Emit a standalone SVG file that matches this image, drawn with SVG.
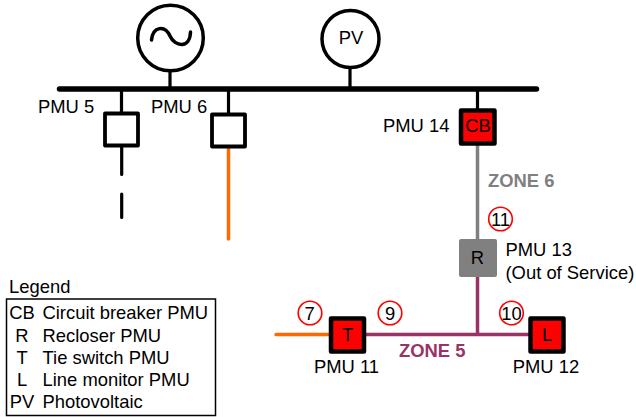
<svg xmlns="http://www.w3.org/2000/svg" width="636" height="417" viewBox="0 0 636 417">
<style>
text{font-family:"Liberation Sans",Arial,sans-serif;font-size:18.400px;fill:#000}
.m{text-anchor:middle}
.w{fill:none;stroke-linecap:round}
.k{stroke:#000;stroke-width:3.200}
.o{stroke:#ff6a00;stroke-width:3.500}
.g{stroke:#808080;stroke-width:3.500}
.p{stroke:#993366;stroke-width:3.500}
.box{stroke:#000;stroke-width:3.800;fill:#fff;stroke-linejoin:round}
.red{stroke:#000;stroke-width:4.500;fill:#f00;stroke-linejoin:round}
.ref{fill:#fff;stroke:#f00;stroke-width:1.600}
.z{font-weight:bold}
</style>
<rect width="636" height="417" fill="#fff"/>
<g id="connectors">
<path class="w" stroke="#000" stroke-width="5.500" d="M59.500 89H536.500"/>
<path class="w k" d="M170 71V89M350 68V89M121.500 89V113M228.500 89V114M477.500 89V110M121.700 146V174.500M121.700 194V217.500"/>
<path class="w o" d="M228.500 148V239M276 334.500H331"/>
<path class="w g" d="M477.500 143V240"/>
<path class="w p" d="M477.500 276V333M364 334.500H532"/>
</g>
<g id="generator">
<circle cx="170.500" cy="38" r="32.800" fill="#fff" stroke="#000" stroke-width="3.500"/>
<path d="M151.500 40C153 26 165 25 170 36C175 47 190 49 190.500 32" fill="none" stroke="#000" stroke-width="3.500" stroke-linecap="round"/>
</g>
<g id="pv">
<circle cx="350.500" cy="39" r="28.500" fill="#fff" stroke="#000" stroke-width="3.500"/>
<text class="m" x="351" y="44">PV</text>
</g>
<g id="pmu5">
<rect class="box" x="105" y="113.500" width="33" height="32"/>
<text x="38" y="113">PMU 5</text>
</g>
<g id="pmu6">
<rect class="box" x="212" y="114.500" width="33" height="32"/>
<text x="151" y="113">PMU 6</text>
</g>
<g id="pmu14">
<rect class="red" x="461" y="110.500" width="33.500" height="33"/>
<text class="m" x="478" y="132">CB</text>
<text x="383" y="132">PMU 14</text>
</g>
<g id="zone6"><text class="z" x="488" y="187" style="fill:#808080">ZONE 6</text></g>
<g id="ref11">
<circle class="ref" cx="500.500" cy="219" r="11.800"/>
<text class="m" x="500.500" y="225.500">11</text>
</g>
<g id="pmu13">
<rect x="459" y="239" width="38" height="38" rx="2" fill="#808080"/>
<text class="m" x="477.500" y="263.500">R</text>
<text x="505.500" y="256">PMU 13</text>
<text x="505.500" y="278.500">(Out of Service)</text>
</g>
<g id="pmu11">
<rect class="red" x="331" y="318.500" width="33" height="33"/>
<text class="m" x="347.500" y="341">T</text>
<text class="m" x="346.500" y="373">PMU 11</text>
</g>
<g id="pmu12">
<rect class="red" x="530.500" y="318.500" width="33" height="33"/>
<text class="m" x="547" y="341">L</text>
<text class="m" x="546" y="373">PMU 12</text>
</g>
<g id="ref7">
<circle class="ref" cx="310" cy="313" r="11.800"/>
<text class="m" x="309.500" y="319.500">7</text>
</g>
<g id="ref9">
<circle class="ref" cx="390" cy="313" r="11.800"/>
<text class="m" x="390" y="319.500">9</text>
</g>
<g id="ref10">
<circle class="ref" cx="511.500" cy="313" r="11.800"/>
<text class="m" x="511.500" y="319.500">10</text>
</g>
<g id="zone5"><text class="z" x="399" y="357" style="fill:#993366">ZONE 5</text></g>
<g id="legend">
<text x="9" y="293">Legend</text>
<rect x="6.500" y="299" width="209" height="116.500" fill="#fff" stroke="#000" stroke-width="1.500"/>
<text class="m" x="22" y="319">CB</text><text x="42.500" y="319">Circuit breaker PMU</text>
<text class="m" x="22" y="342">R</text><text x="42.500" y="342">Recloser PMU</text>
<text class="m" x="22" y="364">T</text><text x="42.500" y="364">Tie switch PMU</text>
<text class="m" x="22" y="386">L</text><text x="42.500" y="386">Line monitor PMU</text>
<text class="m" x="22" y="408">PV</text><text x="42.500" y="408">Photovoltaic</text>
</g>
</svg>
